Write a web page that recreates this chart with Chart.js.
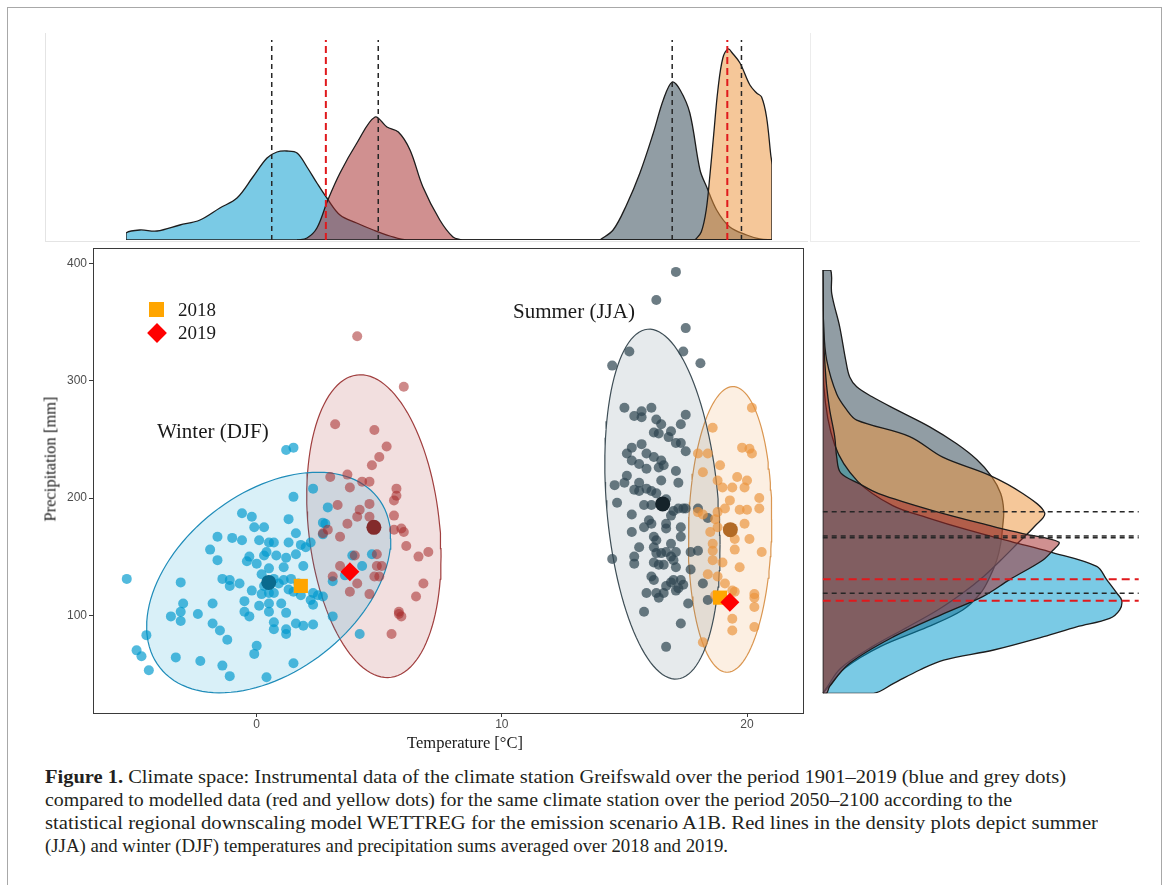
<!DOCTYPE html>
<html><head><meta charset="utf-8">
<script src="https://cdn.jsdelivr.net/npm/chart.js@4.4.0/dist/chart.umd.min.js"></script>
<style>
html,body{margin:0;padding:0;background:#fff;}
body{width:1168px;height:885px;position:relative;overflow:hidden;font-family:"Liberation Serif","Times New Roman",serif;color:#1a1a1a;}
.abs{position:absolute;}
canvas{position:absolute;}
.txt{position:absolute;white-space:nowrap;}
.cap{position:absolute;left:45px;white-space:nowrap;font-size:18.5px;line-height:23px;transform-origin:0 0;color:#231f20;}
</style></head>
<body>
<div class="abs" style="left:7px;top:7px;width:1153px;height:890px;border:1px solid #a8a8a8;"></div>
<!-- faint panel frames of the marginal plots -->
<div class="abs" style="left:45px;top:33px;width:1px;height:209px;background:#e4e4e4;"></div>
<div class="abs" style="left:45px;top:241px;width:763px;height:1px;background:#e4e4e4;"></div>
<div class="abs" style="left:810px;top:33px;width:1px;height:209px;background:#ececec;"></div>
<div class="abs" style="left:810px;top:241px;width:330px;height:1px;background:#ececec;"></div>

<canvas id="cTop" width="666" height="215" style="left:116px;top:30px;"></canvas>
<canvas id="cMain" width="790" height="525" style="left:30px;top:240px;"></canvas>
<canvas id="cRight" width="340" height="440" style="left:812px;top:262px;"></canvas>
<div class="abs" style="left:93px;top:248px;width:709px;height:464px;border:1px solid #3a3a3a;pointer-events:none;"></div>

<!-- legend and annotations -->
<div class="abs" style="left:149px;top:302px;width:15px;height:15px;background:#FFA500;"></div>
<div class="abs" style="left:150px;top:326px;width:14px;height:14px;background:#FF0000;transform:rotate(45deg);"></div>
<div class="txt" style="left:178px;top:300px;font-size:19px;line-height:19px;">2018</div>
<div class="txt" style="left:178px;top:323px;font-size:19px;line-height:19px;">2019</div>
<div class="txt" style="left:157px;top:421px;font-size:21px;line-height:21px;">Winter (DJF)</div>
<div class="txt" style="left:513px;top:301px;font-size:21px;line-height:21px;">Summer (JJA)</div>
<div class="txt" style="left:465px;top:734px;font-size:16.5px;line-height:17px;transform:translateX(-50%);">Temperature [°C]</div>
<div class="txt" style="left:50px;top:459px;font-size:16.5px;line-height:17px;transform:translate(-50%,-50%) rotate(-90deg);">Precipitation [mm]</div>

<div class="cap" data-w="1021" style="top:766px;"><b>Figure 1.</b> Climate space: Instrumental data of the climate station Greifswald over the period 1901–2019 (blue and grey dots)</div>
<div class="cap" data-w="967" style="top:789px;">compared to modelled data (red and yellow dots) for the same climate station over the period 2050–2100 according to the</div>
<div class="cap" data-w="1053" style="top:812px;">statistical regional downscaling model WETTREG for the emission scenario A1B. Red lines in the density plots depict summer</div>
<div class="cap" data-w="683" style="top:835px;">(JJA) and winter (DJF) temperatures and precipitation sums averaged over 2018 and 2019.</div>

<script>
// ---------- axis ticks ----------
const xTicks = [0, 10, 20];
const yTicks = [100, 200, 300, 400];

// ---------- scatter data: [temperature °C, precipitation mm] ----------
const winterObs = [[-5.3,131],[-4.5,83],[-4.9,70],[-4.7,65],[-4.4,53],[-3.5,99],[-3.1,95],[-3.1,128],[-3.0,110],[-3.1,103],[-2.4,101],[-3.3,64],[-2.3,61],[-1.9,156],[-1.6,167],[-1.6,147],[-1.8,110],[-1.8,93],[-1.5,87],[-1.2,79],[-1.4,131],[-1.1,130],[-1.1,125],[-1.4,57],[-1.1,48],[-1.0,166],[-0.6,187],[-0.2,184],[-0.6,164],[-0.7,127],[-0.5,112],[-0.5,103],[-0.3,99],[-0.3,150],[-0.4,146],[-0.1,175],[0.3,175],[0.1,164],[0.5,162],[0.7,162],[0.0,144],[0.3,151],[0.4,154],[0.2,135],[0.2,118],[0.5,119],[0.7,119],[0.1,108],[0.5,110],[0.5,103],[0.0,74],[-0.1,67],[0.4,47],[0.7,94],[0.7,88],[0.5,140],[0.8,151],[1.2,149],[1.1,141],[1.1,130],[1.4,131],[1.3,122],[1.5,120],[1.2,102],[1.2,88],[1.2,84],[1.3,162],[1.3,182],[1.5,201],[1.6,170],[1.6,152],[1.8,160],[2.0,158],[2.2,162],[1.9,142],[1.8,117],[2.3,119],[2.5,117],[2.7,116],[2.2,113],[2.3,109],[1.6,93],[1.9,91],[2.3,92],[1.5,59],[2.3,208],[2.9,192],[2.7,179],[2.8,178],[2.7,169],[3.1,99],[3.1,129],[3.6,134],[3.9,151],[4.3,142],[4.7,152],[4.2,84],[1.2,241],[1.5,243],[0.9,127],[0.3,125],[0.7,131],[-0.2,121],[1.0,110],[1.7,127]];
const winterMod = [[4.1,338],[6.0,295],[3.2,263],[4.8,258],[5.3,244],[5.0,235],[4.7,228],[3.0,218],[3.7,220],[4.3,214],[4.6,214],[3.8,209],[5.7,208],[5.7,202],[5.6,198],[3.3,194],[4.6,195],[4.2,190],[4.1,184],[4.6,184],[5.6,185],[2.9,173],[2.7,170],[3.4,167],[5.6,173],[5.9,174],[6.0,171],[6.1,159],[6.6,150],[7.0,154],[4.0,151],[4.9,152],[3.4,142],[3.1,133],[4.1,127],[3.8,120],[4.6,118],[4.9,142],[5.1,142],[4.8,133],[5.0,133],[5.5,84],[5.8,103],[5.9,99],[6.8,127],[6.5,116],[3.7,178],[5.8,101]];
const summerObs = [[17.1,393],[16.3,369],[17.5,345],[15.2,325],[17.4,325],[14.5,313],[18.1,315],[15.0,277],[15.4,270],[15.7,274],[15.7,269],[16.1,277],[16.3,267],[16.5,263],[16.9,257],[16.8,252],[17.5,271],[17.3,263],[16.2,256],[16.4,255],[17.1,247],[17.3,247],[15.7,246],[17.5,240],[15.3,243],[15.1,238],[15.9,238],[16.2,235],[16.5,232],[16.6,228],[16.4,226],[15.3,232],[15.6,229],[15.9,225],[17.1,223],[15.1,219],[16.5,215],[17.2,213],[15.6,213],[15.0,213],[14.6,211],[15.4,207],[15.6,206],[15.9,208],[16.1,206],[16.3,204],[16.7,199],[17.0,189],[17.2,191],[15.3,186],[15.8,194],[16.1,194],[14.7,196],[17.4,191],[17.5,191],[16.9,185],[15.8,175],[16.0,181],[16.1,178],[18.0,191],[16.7,178],[16.7,174],[17.3,175],[15.3,171],[18.4,183],[16.2,167],[16.3,164],[17.3,167],[16.9,161],[15.6,158],[16.2,158],[16.3,153],[16.5,153],[16.7,154],[16.9,150],[17.1,154],[17.7,154],[18.0,155],[14.5,148],[15.4,150],[15.4,144],[16.2,145],[16.4,143],[16.6,143],[17.0,147],[17.1,141],[17.7,139],[16.1,133],[16.2,130],[16.9,128],[17.0,130],[17.3,130],[17.4,126],[18.2,127],[16.7,125],[15.9,119],[16.3,119],[16.4,115],[16.6,119],[17.1,121],[17.2,123],[18.4,113],[17.6,110],[15.8,103],[17.3,93],[16.7,73]];
const summerMod = [[20.2,277],[18.6,260],[19.8,243],[20.1,242],[20.2,238],[18.0,238],[18.4,238],[18.9,228],[18.2,222],[19.6,218],[20.0,215],[18.8,215],[19.0,209],[19.9,209],[19.4,209],[20.5,200],[19.3,198],[19.1,191],[19.7,190],[20.0,190],[20.5,191],[18.7,182],[18.8,175],[18.5,171],[19.9,178],[19.5,165],[19.5,156],[20.1,165],[18.6,161],[18.6,155],[19.0,145],[19.7,141],[20.6,154],[18.8,133],[18.4,135],[19.1,127],[19.4,121],[20.3,118],[20.3,115],[20.3,107],[19.4,97],[19.4,87],[20.3,90],[18.2,77],[18.0,188],[18.2,186],[18.8,188],[18.6,147],[18.7,117],[19.5,120]];

// group means [T, P]
const meanWinterObs = [0.49, 128];
const meanWinterMod = [4.78, 175];
const meanSummerObs = [16.56, 195];
const meanSummerMod = [19.32, 173];
// observed years [T, P] : winter, summer
const year2018 = [[1.8, 125], [18.9, 115]];
const year2019 = [[3.8, 137], [19.3, 111]];

// confidence ellipses: [centre T, centre P, half-range T, half-range P, correlation]
const ellWinterObs = [0.49, 127.9, 4.98, 94.1, 0.40];
const ellWinterMod = [4.78, 176.0, 2.74, 129.2, -0.20];
const ellSummerObs = [16.55, 194.8, 2.35, 149.3, -0.23];
const ellSummerMod = [19.31, 173.2, 1.70, 121.9, 0.07];

// ---------- temperature densities (top): [T, relative density] ----------
const tdWinterObs = [[-5.42,0],[-5.42,7],[-4.86,10],[-4.17,9],[-3.25,15],[-2.44,20],[-1.64,32],[-0.95,42],[-0.31,63],[0.26,82],[0.66,88],[1.06,89],[1.47,87],[1.87,73],[2.27,57],[2.67,42],[3.2,25],[3.87,17],[4.54,10],[5.21,4],[5.9,0],[20.6,0]];
const tdWinterMod = [[1.47,0],[1.87,2],[2.27,12],[2.71,40],[3.2,67],[3.88,97],[4.61,123],[5.09,113],[5.55,108],[6.02,90],[6.54,53],[7.22,20],[7.75,3],[8.1,0]];
const tdSummerObs = [[13.67,0],[14.2,10],[14.74,35],[15.28,67],[15.82,107],[16.22,140],[16.58,158],[16.9,150],[17.29,127],[17.7,70],[17.97,53],[18.37,30],[18.9,13],[19.58,5],[20.11,1],[20.6,0]];
const tdSummerMod = [[17.5,0],[17.75,8],[17.95,30],[18.1,65],[18.25,105],[18.42,150],[18.62,182],[18.84,191],[19.0,187],[19.31,177],[19.71,155],[19.98,147],[20.18,143],[20.38,123],[20.55,85],[20.6,75],[20.6,0]];
const tempBlackLines = [0.45, 4.74, 16.58, 19.37];
const tempRedLines = [2.63, 18.8];
const tempRange = [-5.42, 20.6];

// ---------- precipitation densities (right): [P, relative density] ----------
const pdWinterObs = [[394.3,0],[300,1],[250,12],[220,35],[200,70],[190,105],[180,145],[170,190],[162,227],[150,274],[139,284],[128,294],[122,299],[114,297],[107,287],[100,254],[92,221],[81,171],[72.7,121],[64.5,97],[53.5,71],[45.3,51],[45.3,0]];
const pdSummerObs = [[394.3,0],[394.3,8],[375,9],[347.5,17],[320,23],[306,27],[298,34],[290,49],[279,74],[265,107],[251,134],[238,154],[224,169],[210,178],[196,181],[183,180],[169,178],[155,174],[141,167],[128,158],[114,140],[100,105],[84,58],[66,22],[50,5],[45.3,0]];
const pdSummerMod = [[394.3,0],[347,1],[320,4],[292,14],[279,24],[270.6,34],[257,87],[240,120],[225,167],[210,200],[194,222],[183,212],[169,195],[155,178],[141,160],[128,140],[114,115],[100,85],[84,50],[66,18],[50,4],[45.3,0]];
const pdWinterMod = [[394.3,0],[338,1],[320,2],[298,4],[279,7],[257,12],[240,14],[227,18],[218,37],[210,56],[196,110],[183,170],[177,200],[170,236],[163,230],[155,220],[139,187],[125,160],[111,121],[92,71],[70,27],[51,7],[45.3,4],[45.3,0]];
const precBlackLines = [195, 175, 173.5, 127.7];
const precRedLines = [139.3, 121.6];
const precRange = [45.3, 394.3];

// ---------- colours ----------
const C = {
  wObs: [0,154,205], wMod: [165,42,42], sObs: [45,68,80], sMod: [235,148,60]
};
const rgba = (c, a) => `rgba(${c[0]},${c[1]},${c[2]},${a})`;
const SANS = '"Liberation Sans", Arial, sans-serif';
Chart.defaults.font.family = SANS;

function xy(arr){ return arr.map(p => ({x: p[0], y: p[1]})); }
function yx(arr){ return arr.map(p => ({x: p[1], y: p[0]})); }

// ---------- top: temperature densities ----------
function dens(data, col, order){
  return {type:'line', data, borderColor:'#1c1c1c', borderWidth:1.3, backgroundColor: rgba(col,0.52),
          fill:'origin', tension:0.35, pointRadius:0, order};
}
function vline(t, color, w, dash){
  return {type:'line', data:[{x:t,y:0},{x:t,y:200}], borderColor:color, borderWidth:w, borderDash:dash,
          pointRadius:0, fill:false, tension:0, order:0};
}
// drawing order (bottom to top): summer obs, summer mod, winter obs, winter mod
new Chart(document.getElementById('cTop'), {
  type:'line',
  data:{datasets:[
    dens(xy(tdSummerObs), C.sObs, 9),
    dens(xy(tdSummerMod), C.sMod, 8),
    dens(xy(tdWinterObs), C.wObs, 7),
    dens(xy(tdWinterMod), C.wMod, 6),
    {type:'line', data:[{x:tempRange[0],y:0},{x:tempRange[1],y:0}], borderColor:'#1c1c1c', borderWidth:1.5, pointRadius:0, fill:false, order:1},
    ...tempBlackLines.map(t => vline(t, '#262626', 1.5, [5,4])),
    ...tempRedLines.map(t => vline(t, '#e0191c', 2, [7,4]))
  ]},
  options:{
    animation:false, responsive:false, devicePixelRatio:1,
    layout:{padding:{left:10,right:10,top:10,bottom:5}},
    plugins:{legend:{display:false}, tooltip:{enabled:false}},
    scales:{
      x:{type:'linear', display:false, min:tempRange[0], max:tempRange[1]},
      y:{type:'linear', display:false, min:0, max:200}
    }
  }
});

// ---------- main scatter ----------
function ellipse(e, col, stroke){
  const [cx, cy, rx, ry, rho] = e, s = Math.sqrt(1 - rho*rho), pts = [];
  for (let i = 0; i <= 120; i++){
    const t = 2*Math.PI*i/120;
    pts.push({x: cx + rx*Math.cos(t), y: cy + ry*(rho*Math.cos(t) + s*Math.sin(t))});
  }
  return {type:'line', data:pts, borderColor:stroke, borderWidth:1.2, backgroundColor:rgba(col,0.15),
          fill:'shape', tension:0, pointRadius:0, order:10};
}
function pts(arr, col, a, order){
  return {data: xy(arr), backgroundColor: rgba(col,a), borderWidth:0, pointRadius:5, order};
}
function mean(m, color){
  return {data:[{x:m[0], y:m[1]}], backgroundColor:color, borderWidth:0, pointRadius:7.5, order:3};
}
new Chart(document.getElementById('cMain'), {
  type:'scatter',
  data:{datasets:[
    ellipse(ellWinterObs, C.wObs, 'rgb(30,140,185)'),
    ellipse(ellWinterMod, C.wMod, 'rgb(160,62,62)'),
    ellipse(ellSummerObs, [90,115,125], 'rgb(62,78,86)'),
    ellipse(ellSummerMod, C.sMod, 'rgb(218,150,80)'),
    pts(winterObs, C.wObs, 0.68, 8),
    pts(winterMod, C.wMod, 0.55, 7),
    pts(summerObs, C.sObs, 0.7, 6),
    pts(summerMod, C.sMod, 0.68, 5),
    mean(meanWinterObs, '#0a6a8e'),
    mean(meanWinterMod, '#832b2b'),
    mean(meanSummerObs, '#15232a'),
    mean(meanSummerMod, '#b26a25'),
    {data: xy(year2018), pointStyle:'rect', pointRadius:10, backgroundColor:'#FFA500', borderWidth:0, order:2},
    {data: xy(year2019), pointStyle:'rectRot', pointRadius:9.5, backgroundColor:'#FF0000', borderWidth:0, order:1}
  ]},
  options:{
    animation:false, responsive:false, devicePixelRatio:1,
    layout:{padding:{left:0, right:17, top:9, bottom:0}},
    plugins:{legend:{display:false}, tooltip:{enabled:false}},
    scales:{
      x:{type:'linear', min:-6.637, max:22.284,
         afterBuildTicks: s => { s.ticks = xTicks.map(v => ({value:v})); },
         afterFit: s => { s.height = 52; },
         ticks:{font:{size:12, family:SANS}, color:'#4d4d4d', padding:0, maxRotation:0},
         grid:{display:true, drawOnChartArea:false, drawTicks:true, tickLength:4, color:'#3a3a3a'},
         border:{display:false}},
      y:{type:'linear', min:16.55, max:411.67,
         afterBuildTicks: s => { s.ticks = yTicks.map(v => ({value:v})); },
         afterFit: s => { s.width = 64; },
         ticks:{font:{size:12, family:SANS}, color:'#4d4d4d', padding:2},
         grid:{display:true, drawOnChartArea:false, drawTicks:true, tickLength:5, color:'#3a3a3a'},
         border:{display:false}}
    }
  }
});

// ---------- right: precipitation densities ----------
function hline(p, color, w, dash){
  return {type:'line', data:[{x:0,y:p},{x:316,y:p}], borderColor:color, borderWidth:w, borderDash:dash,
          pointRadius:0, fill:false, tension:0, order:0};
}
new Chart(document.getElementById('cRight'), {
  type:'line',
  data:{datasets:[
    dens(yx(pdSummerObs), C.sObs, 9),
    dens(yx(pdSummerMod), C.sMod, 8),
    dens(yx(pdWinterObs), C.wObs, 7),
    dens(yx(pdWinterMod), C.wMod, 6),
    {type:'line', data:[{x:0,y:precRange[0]},{x:0,y:precRange[1]}], borderColor:'#1c1c1c', borderWidth:1.5, pointRadius:0, fill:false, order:1},
    ...precBlackLines.map(p => hline(p, '#262626', 1.5, [5,4])),
    ...precRedLines.map(p => hline(p, '#e0191c', 2, [8,5]))
  ]},
  options:{
    indexAxis:'y',
    animation:false, responsive:false, devicePixelRatio:1,
    layout:{padding:{left:10.7, right:9.3, top:8, bottom:8.7}},
    plugins:{legend:{display:false}, tooltip:{enabled:false}},
    scales:{
      x:{type:'linear', display:false, min:0, max:320},
      y:{type:'linear', display:false, min:precRange[0], max:precRange[1]}
    }
  }
});

// ---------- fit caption lines to the reference line lengths ----------
document.querySelectorAll('.cap').forEach(el => {
  const w = el.getBoundingClientRect().width, target = +el.dataset.w;
  if (w > 0) el.style.transform = `scaleX(${target / w})`;
});
</script>
</body></html>
